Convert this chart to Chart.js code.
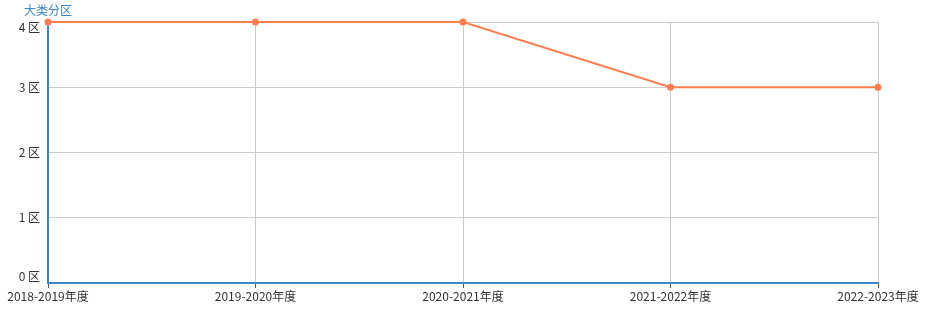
<html>
<head>
<style>
    body { margin: 0; background: #fff; }
    #wrap { width: 927px; height: 326px; }
</style>
</head>
<body>
    <div id="wrap">
        <canvas id="myChart"></canvas>
    </div>
    <script src="https://cdn.jsdelivr.net/npm/chart.js"></script>
    <script>
        // 年度 / 分区 数据
        const years = ['2018-2019年度', '2019-2020年度', '2020-2021年度', '2021-2022年度', '2022-2023年度'];
        const zoneValues = [4, 4, 4, 3, 3];
        const yTicks = [0, 1, 2, 3, 4];
        const yAxisName = '大类分区';

        const axisBlue = '#3c87c5';
        const lineColor = '#ff7f50';
        const fontFamily = '"Microsoft YaHei", "Noto Sans CJK SC", sans-serif';

        // y축 이름 + 양끝 눈금 라벨(안쪽으로 밀린 위치) 그리기
        const axisNamePlugin = {
            id: 'axisName',
            afterDraw(chart) {
                const ctx = chart.ctx;
                const y = chart.scales.y;
                ctx.save();
                ctx.font = '12px ' + fontFamily;
                ctx.fillStyle = axisBlue;
                ctx.textAlign = 'center';
                ctx.textBaseline = 'middle';
                ctx.fillText(yAxisName, chart.chartArea.left, 10);

                ctx.fillStyle = '#333';
                ctx.textAlign = 'right';
                const first = yTicks[0], last = yTicks[yTicks.length - 1];
                ctx.fillText(first + ' 区', chart.chartArea.left - 8, y.getPixelForValue(first) - 7);
                ctx.fillText(last + ' 区', chart.chartArea.left - 8, y.getPixelForValue(last) + 5);
                ctx.restore();
            }
        };

        const chartCanvas = document.querySelector('#myChart');
        new Chart(chartCanvas, {
            type: 'line',
            data: {
                labels: years,
                datasets: [{
                    data: zoneValues,
                    borderColor: lineColor,
                    backgroundColor: lineColor,
                    borderWidth: 2,
                    pointRadius: 2.5,
                    pointHoverRadius: 4,
                    tension: 0,
                    clip: false
                }]
            },
            options: {
                responsive: true,
                maintainAspectRatio: false,
                animation: false,
                layout: { padding: { top: 22, right: 49, left: 0, bottom: 0 } },
                plugins: {
                    legend: { display: false },
                    tooltip: { enabled: false }
                },
                scales: {
                    x: {
                        offset: false,
                        grid: {
                            color: '#cccccc',
                            tickColor: '#555',
                            tickLength: 5,
                            lineWidth: 1
                        },
                        border: { color: axisBlue, width: 2 },
                        ticks: {
                            color: '#333',
                            font: { size: 12, family: fontFamily },
                            maxRotation: 0,
                            autoSkip: false,
                            padding: 1
                        },
                        afterFit(scale) { scale.height = 43; }
                    },
                    y: {
                        min: 0,
                        max: 4,
                        afterBuildTicks(scale) {
                            scale.ticks = yTicks.map(v => ({ value: v }));
                        },
                        grid: { color: '#cccccc', drawTicks: false },
                        border: { color: axisBlue, width: 2 },
                        ticks: {
                            // 양끝 라벨은 플러그인에서 그림
                            color: ctx => (ctx.index === 0 || ctx.index === yTicks.length - 1) ? 'rgba(0,0,0,0)' : '#333',
                            padding: 8,
                            font: { size: 12, family: fontFamily },
                            callback: v => v + ' 区'
                        },
                        afterFit(scale) { scale.width = 48; }
                    }
                }
            },
            plugins: [axisNamePlugin]
        });
    </script>
</body>
</html>
